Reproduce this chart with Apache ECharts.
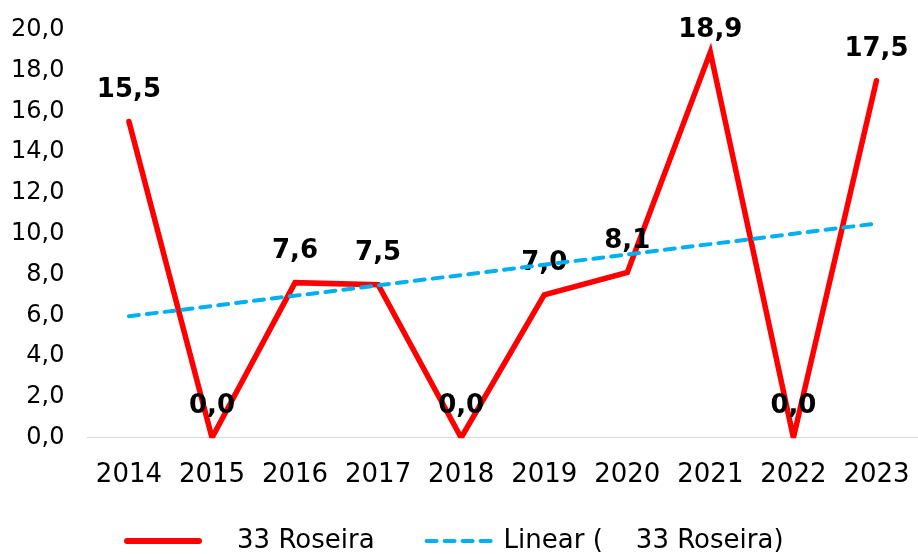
<!DOCTYPE html>
<html>
<head>
<meta charset="utf-8">
<script src="https://cdn.jsdelivr.net/npm/echarts@6/dist/echarts.min.js"></script>
<style>
  html, body { margin: 0; padding: 0; background: #fff; }
  #chart { width: 918px; height: 554px; }
</style>
</head>
<body>
<div id="chart"></div>
<script>
const years = ['2014', '2015', '2016', '2017', '2018', '2019', '2020', '2021', '2022', '2023']
const roseira = [15.5, 0.0, 7.6, 7.5, 0.0, 7.0, 8.1, 18.9, 0.0, 17.5]
// trend line ends
const trendStart = 5.95
const trendEnd = 10.5
const seriesName = '    33 Roseira'
const trendName = 'Linear (' + seriesName + ')'

const fmt = v => Number(v).toFixed(1).replace('.', ',')
const font = 'DejaVu Sans'

// the top label (2021) sits closer to its point so it stays inside the chart
const peakIndex = roseira.indexOf(Math.max(...roseira))
const lineData = roseira.map((v, i) => i === peakIndex ? { value: v, label: { distance: 8 } } : v)

const myChart = echarts.init(document.getElementById('chart'))
const option = {
  animation: false,
  textStyle: { fontFamily: font },
  grid: { left: 87.4, right: -6.8, top: 29.7, bottom: 116.3 },
  // the line is cut at the bottom of the plot, like the original
  graphic: [{
    type: 'rect',
    z: 50,
    silent: true,
    shape: { x: 88, y: 438.3, width: 830, height: 12 },
    style: { fill: '#fff' }
  }],
  legend: {
    left: 124,
    top: 528,
    padding: 0,
    itemWidth: 72,
    itemHeight: 26,
    itemGap: 50,
    textStyle: { fontSize: 26, color: '#000', fontFamily: font },
    data: [
      { name: seriesName, itemStyle: { opacity: 0 }, lineStyle: { color: '#FF0000', width: 6, cap: 'round' } },
      { name: trendName, itemStyle: { opacity: 0 }, lineStyle: { color: '#00B0F0', width: 4, type: [10, 8], cap: 'round' } }
    ]
  },
  xAxis: {
    type: 'category',
    data: years,
    axisLine: { lineStyle: { color: '#D9D9D9', width: 1 } },
    axisTick: { show: false },
    axisLabel: { interval: 0, fontSize: 26, color: '#000', margin: 25, fontFamily: font }
  },
  yAxis: {
    type: 'value',
    min: 0,
    max: 20,
    interval: 2,
    splitLine: { show: false },
    axisLine: { show: false },
    axisTick: { show: false },
    axisLabel: { fontSize: 24, color: '#000', margin: 23, formatter: fmt, fontFamily: font }
  },
  series: [
    {
      name: seriesName,
      type: 'line',
      z: 2,
      data: lineData,
      symbol: 'circle',
      symbolSize: 1,
      showSymbol: true,
      lineStyle: { color: '#FF0000', width: 5.5, cap: 'round', join: 'miter' },
      itemStyle: { color: '#FF0000' },
      label: {
        show: true,
        position: 'top',
        distance: 18,
        fontSize: 26,
        fontWeight: 'bold',
        color: '#000',
        fontFamily: font,
        formatter: p => fmt(p.value)
      }
    },
    {
      name: trendName,
      type: 'line',
      zlevel: 1,
      data: [[0, trendStart], [years.length - 1, trendEnd]],
      symbol: 'none',
      lineStyle: { color: '#00B0F0', width: 4, type: [10, 8], cap: 'round' },
      itemStyle: { color: '#00B0F0' }
    }
  ]
}
myChart.setOption(option)
</script>
</body>
</html>
